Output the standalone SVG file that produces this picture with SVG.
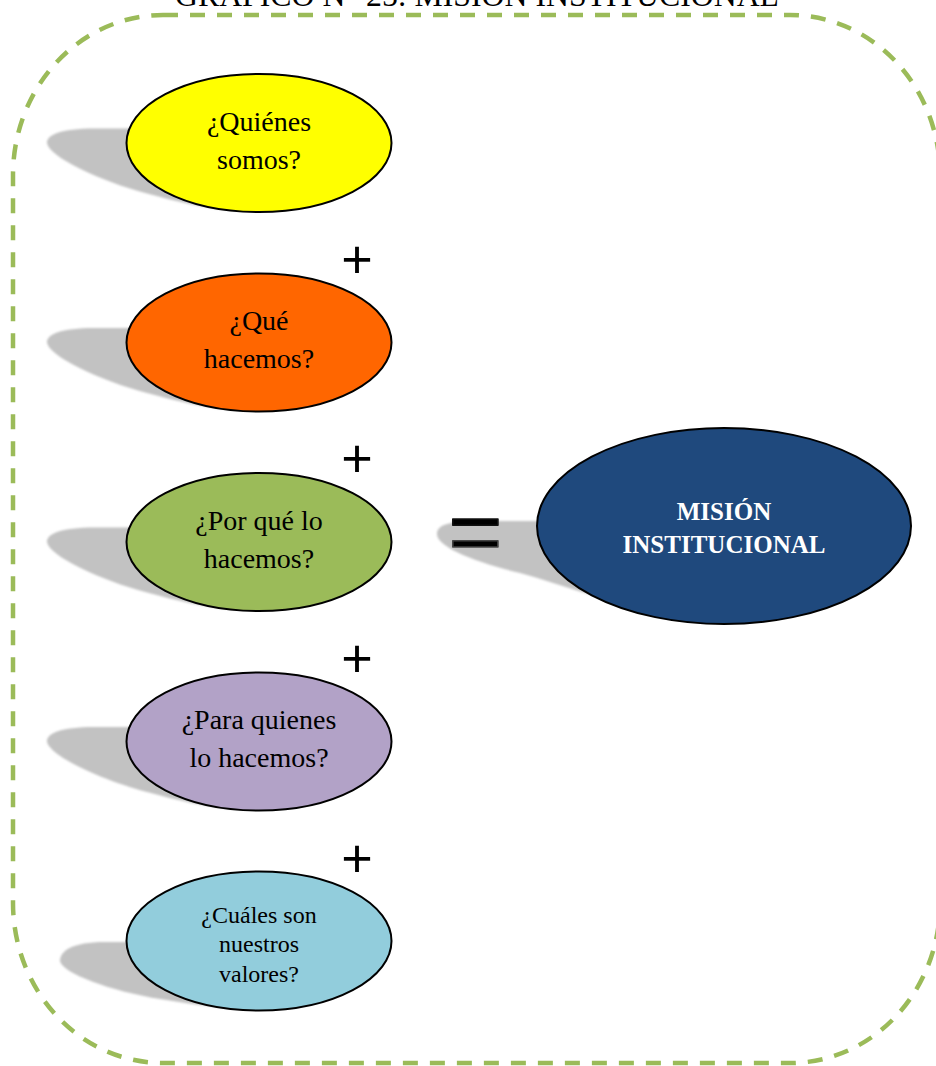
<svg xmlns="http://www.w3.org/2000/svg" width="936" height="1066" viewBox="0 0 936 1066">
<style>
.frame{fill:none;stroke:#9BBB59;stroke-width:4.5;stroke-dasharray:15 12}
.shadow{fill:#c2c2c2}
.node{stroke:#000;stroke-width:2}
.lbl{font-family:"Liberation Serif","Times New Roman",serif;font-size:28px;fill:#000;text-anchor:middle}
.sm{font-size:24px}
.big{font-family:"Liberation Serif","Times New Roman",serif;font-size:25px;font-weight:bold;fill:#fff;text-anchor:middle}
.op{font-family:"Liberation Sans",Arial,sans-serif;font-size:54px;fill:#000;text-anchor:middle}
.title{font-family:"Liberation Serif","Times New Roman",serif;font-size:31px;fill:#000}
</style>
<defs>
<filter id="soft" x="-10%" y="-20%" width="120%" height="140%"><feGaussianBlur stdDeviation="1"/></filter>
<path id="sh" d="M135,-14.5 L95,-14.5 C60,-14.5 47,-8 47,0 C49,14 100,38 147,50.5 C175,58 205,66 245,68.5 Z"/>
<linearGradient id="eqg" gradientUnits="userSpaceOnUse" x1="0" y1="-47" x2="0" y2="-13">
<stop offset="0.35" stop-color="#111"/><stop offset="0.65" stop-color="#454545"/>
</linearGradient>
</defs>
<rect width="936" height="1066" fill="#fff"/>
<text class="title" x="175" y="6" textLength="604" lengthAdjust="spacingAndGlyphs">GRÁFICO N° 25: MISIÓN INSTITUCIONAL</text>
<rect class="frame" x="13" y="15" width="927" height="1048" rx="150" ry="160"/>

<g id="n1">
<use href="#sh" class="shadow" filter="url(#soft)" transform="translate(0,143)"/>
<ellipse class="node" cx="259" cy="143" rx="132.5" ry="69" fill="#FFFF00"/>
<text class="lbl" x="259" y="131">¿Quiénes</text>
<text class="lbl" x="259" y="169">somos?</text>
</g>
<g id="n2">
<use href="#sh" class="shadow" filter="url(#soft)" transform="translate(0,342.5)"/>
<ellipse class="node" cx="259" cy="342.5" rx="132.5" ry="69" fill="#FF6600"/>
<text class="lbl" x="259" y="330">¿Qué</text>
<text class="lbl" x="259" y="368">hacemos?</text>
</g>
<g id="n3">
<use href="#sh" class="shadow" filter="url(#soft)" transform="translate(0,542)"/>
<ellipse class="node" cx="259" cy="542" rx="132.5" ry="69" fill="#9BBB59"/>
<text class="lbl" x="259" y="530">¿Por qué lo</text>
<text class="lbl" x="259" y="568">hacemos?</text>
</g>
<g id="n4">
<use href="#sh" class="shadow" filter="url(#soft)" transform="translate(0,741.5)"/>
<ellipse class="node" cx="259" cy="741.5" rx="132.5" ry="69" fill="#B2A2C7"/>
<text class="lbl" x="259" y="729">¿Para quienes</text>
<text class="lbl" x="259" y="767">lo hacemos?</text>
</g>
<g id="n5">
<path class="shadow" filter="url(#soft)" transform="translate(0,941)" d="M150,1 L105,1 C72,1 60,10 60,20 C62,32 110,50 160,58 C185,62 210,66 250,69 Z"/>
<ellipse class="node" cx="259" cy="941" rx="132.5" ry="69.5" fill="#92CDDC"/>
<text class="lbl sm" x="259" y="923">¿Cuáles son</text>
<text class="lbl sm" x="259" y="952">nuestros</text>
<text class="lbl sm" x="259" y="982">valores?</text>
</g>
<g id="n6">
<path class="shadow" filter="url(#soft)" d="M560,521 L480,521 C455,521 437,523 437,534 C437,546 470,561 520,573 C560,584 600,600 640,607 C670,613 690,618 715,622 L715,600 Z"/>
<ellipse class="node" cx="724" cy="526" rx="187" ry="98" fill="#1F497D"/>
<text class="big" x="724" y="520">MISIÓN</text>
<text class="big" x="724" y="553">INSTITUCIONAL</text>
</g>
<g id="connectors">
<text class="op" x="357" y="278">+</text>
<text class="op" x="357" y="477">+</text>
<text class="op" x="357" y="677">+</text>
<text class="op" x="357" y="877">+</text>
<text class="op" transform="translate(475.5,562) scale(1,0.93)" x="0" y="0" style="font-size:93px" fill="url(#eqg)" stroke="url(#eqg)" stroke-width="1.6" stroke-linejoin="round">=</text>
</g>
</svg>
